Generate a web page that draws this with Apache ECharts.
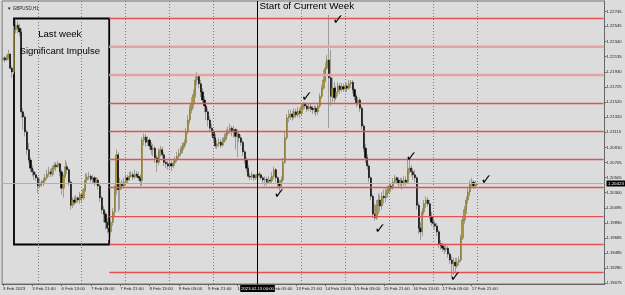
<!DOCTYPE html>
<html>
<head>
<meta charset="utf-8">
<title>GBPUSD H1</title>
<script src="https://cdn.jsdelivr.net/npm/echarts@6/dist/echarts.min.js"></script>
<style>
  html, body { margin: 0; padding: 0; background: #dcdcdc; }
  #chart { width: 625px; height: 295px; }
</style>
</head>
<body>
<div id="chart"></div>
<script>
// hourly candles, [open, close, low, high], one array per trading day
const feb03 = [
  [1.2209,1.2212,1.2206,1.2216],[1.2212,1.2209,1.2206,1.2214],[1.2209,1.2213,1.2208,1.2216],
  [1.2213,1.2217,1.2209,1.2223],[1.2217,1.2198,1.2196,1.2218],[1.2198,1.2193,1.2185,1.2201],
  [1.2193,1.2250,1.2190,1.2255],[1.2250,1.2256,1.2245,1.2263],[1.2256,1.2252,1.2245,1.2262],
  [1.2252,1.2247,1.2241,1.2258],[1.2247,1.2139,1.2131,1.2252],[1.2139,1.2132,1.2115,1.2144],
  [1.2132,1.2112,1.2106,1.2135],[1.2112,1.2088,1.2081,1.2115],[1.2088,1.2074,1.2070,1.2097],
  [1.2074,1.2063,1.2058,1.2078],[1.2063,1.2058,1.2052,1.2067],[1.2058,1.2054,1.2047,1.2062],
  [1.2054,1.2050,1.2046,1.2058]
];
const feb06 = [
  [1.2050,1.2039,1.2029,1.2052],[1.2039,1.2043,1.2036,1.2050],[1.2043,1.2042,1.2038,1.2047],
  [1.2042,1.2046,1.2039,1.2050],[1.2046,1.2050,1.2043,1.2055],[1.2050,1.2055,1.2047,1.2061],
  [1.2055,1.2058,1.2051,1.2065],[1.2058,1.2055,1.2051,1.2062],[1.2055,1.2063,1.2052,1.2067],
  [1.2063,1.2067,1.2061,1.2071],[1.2067,1.2065,1.2059,1.2071],[1.2065,1.2069,1.2063,1.2073],
  [1.2069,1.2058,1.2052,1.2070],[1.2058,1.2036,1.2027,1.2061],[1.2036,1.2052,1.2023,1.2055],
  [1.2052,1.2065,1.2050,1.2074],[1.2065,1.2061,1.2055,1.2071],[1.2061,1.2044,1.2039,1.2063],
  [1.2044,1.2013,1.2007,1.2047],[1.2013,1.2020,1.2009,1.2024],[1.2020,1.2017,1.2013,1.2025],
  [1.2017,1.2023,1.2015,1.2027],[1.2023,1.2020,1.2016,1.2025],[1.2020,1.2027,1.2015,1.2031]
];
const feb07 = [
  [1.2027,1.2023,1.2016,1.2029],[1.2023,1.2034,1.2020,1.2036],[1.2034,1.2047,1.2031,1.2056],
  [1.2047,1.2051,1.2043,1.2056],[1.2051,1.2052,1.2047,1.2058],[1.2052,1.2048,1.2044,1.2055],
  [1.2048,1.2050,1.2043,1.2054],[1.2050,1.2044,1.2039,1.2052],[1.2044,1.2047,1.2040,1.2051],
  [1.2047,1.2039,1.2034,1.2050],[1.2039,1.2023,1.2017,1.2042],[1.2023,1.2007,1.2001,1.2025],
  [1.2007,1.2001,1.1990,1.2012],[1.2001,1.1990,1.1980,1.2004],[1.1990,1.1982,1.1975,1.1996],
  [1.1982,1.1977,1.1966,1.1986],[1.1977,1.1990,1.1971,1.1996],[1.1990,1.2004,1.1985,1.2009],
  [1.2004,1.2034,1.1998,1.2040],[1.2034,1.2081,1.2027,1.2088],[1.2081,1.2034,1.2004,1.2085],
  [1.2034,1.2043,1.2007,1.2050],[1.2043,1.2039,1.2034,1.2047],[1.2039,1.2044,1.2036,1.2050]
];
const feb08 = [
  [1.2044,1.2050,1.2039,1.2055],[1.2050,1.2047,1.2043,1.2054],[1.2047,1.2052,1.2046,1.2058],
  [1.2052,1.2054,1.2050,1.2059],[1.2054,1.2051,1.2047,1.2058],[1.2051,1.2055,1.2048,1.2061],
  [1.2055,1.2052,1.2050,1.2059],[1.2052,1.2050,1.2046,1.2058],[1.2050,1.2046,1.2039,1.2054],
  [1.2046,1.2101,1.2039,1.2105],[1.2101,1.2105,1.2094,1.2110],[1.2105,1.2098,1.2092,1.2109],
  [1.2098,1.2101,1.2093,1.2106],[1.2101,1.2093,1.2088,1.2104],[1.2093,1.2088,1.2081,1.2098],
  [1.2088,1.2090,1.2079,1.2096],[1.2090,1.2077,1.2070,1.2093],[1.2077,1.2071,1.2058,1.2081],
  [1.2071,1.2085,1.2067,1.2090],[1.2085,1.2088,1.2079,1.2093],[1.2088,1.2081,1.2077,1.2092],
  [1.2081,1.2071,1.2066,1.2085],[1.2071,1.2069,1.2063,1.2075],[1.2069,1.2066,1.2061,1.2073]
];
const feb09 = [
  [1.2066,1.2069,1.2062,1.2074],[1.2069,1.2066,1.2059,1.2073],[1.2066,1.2070,1.2063,1.2075],
  [1.2070,1.2074,1.2066,1.2079],[1.2074,1.2079,1.2071,1.2085],[1.2079,1.2083,1.2075,1.2089],
  [1.2083,1.2088,1.2079,1.2092],[1.2088,1.2093,1.2083,1.2098],[1.2093,1.2097,1.2090,1.2102],
  [1.2097,1.2112,1.2093,1.2117],[1.2112,1.2128,1.2109,1.2135],[1.2128,1.2142,1.2123,1.2148],
  [1.2142,1.2150,1.2137,1.2159],[1.2150,1.2162,1.2144,1.2169],[1.2162,1.2182,1.2158,1.2189],
  [1.2182,1.2187,1.2175,1.2193],[1.2187,1.2177,1.2171,1.2190],[1.2177,1.2166,1.2159,1.2182],
  [1.2166,1.2155,1.2150,1.2171],[1.2155,1.2147,1.2139,1.2160],[1.2147,1.2139,1.2128,1.2150],
  [1.2139,1.2128,1.2119,1.2144],[1.2128,1.2117,1.2112,1.2133],[1.2117,1.2112,1.2106,1.2123]
];
const feb10 = [
  [1.2112,1.2104,1.2098,1.2116],[1.2104,1.2093,1.2090,1.2109],[1.2093,1.2096,1.2089,1.2101],
  [1.2096,1.2098,1.2092,1.2104],[1.2098,1.2094,1.2090,1.2102],[1.2094,1.2100,1.2092,1.2105],
  [1.2100,1.2104,1.2097,1.2110],[1.2104,1.2110,1.2101,1.2116],[1.2110,1.2113,1.2106,1.2119],
  [1.2113,1.2117,1.2109,1.2123],[1.2117,1.2112,1.2106,1.2120],[1.2112,1.2115,1.2104,1.2120],
  [1.2115,1.2106,1.2088,1.2117],[1.2106,1.2109,1.2078,1.2115],[1.2109,1.2104,1.2098,1.2113],
  [1.2104,1.2098,1.2093,1.2108],[1.2098,1.2085,1.2079,1.2101],[1.2085,1.2074,1.2069,1.2088],
  [1.2074,1.2063,1.2058,1.2078],[1.2063,1.2052,1.2050,1.2067],[1.2052,1.2051,1.2047,1.2056],
  [1.2051,1.2054,1.2048,1.2058],[1.2054,1.2050,1.2046,1.2055],[1.2050,1.2052,1.2047,1.2055]
];
const feb13 = [
  [1.2052,1.2055,1.2050,1.2059],[1.2055,1.2054,1.2050,1.2058],[1.2054,1.2050,1.2047,1.2056],
  [1.2050,1.2047,1.2042,1.2052],[1.2047,1.2048,1.2039,1.2052],[1.2048,1.2044,1.2040,1.2051],
  [1.2044,1.2047,1.2042,1.2052],[1.2047,1.2046,1.2042,1.2051],[1.2046,1.2052,1.2043,1.2058],
  [1.2052,1.2061,1.2048,1.2065],[1.2061,1.2050,1.2044,1.2063],[1.2050,1.2042,1.2036,1.2052],
  [1.2042,1.2039,1.2032,1.2047],[1.2039,1.2047,1.2035,1.2052],[1.2047,1.2071,1.2044,1.2077],
  [1.2071,1.2104,1.2069,1.2112],[1.2104,1.2131,1.2101,1.2136],[1.2131,1.2133,1.2125,1.2142],
  [1.2133,1.2136,1.2128,1.2142],[1.2136,1.2132,1.2127,1.2140],[1.2132,1.2139,1.2129,1.2144],
  [1.2139,1.2135,1.2131,1.2143],[1.2135,1.2140,1.2132,1.2146],[1.2140,1.2137,1.2131,1.2144]
];
const feb14 = [
  [1.2137,1.2146,1.2135,1.2150],[1.2146,1.2150,1.2142,1.2152],[1.2150,1.2147,1.2143,1.2152],
  [1.2147,1.2143,1.2139,1.2150],[1.2143,1.2146,1.2140,1.2150],[1.2146,1.2144,1.2139,1.2150],
  [1.2144,1.2142,1.2136,1.2147],[1.2142,1.2144,1.2137,1.2148],[1.2144,1.2139,1.2133,1.2147],
  [1.2139,1.2147,1.2135,1.2150],[1.2147,1.2160,1.2144,1.2164],[1.2160,1.2171,1.2156,1.2175],
  [1.2171,1.2182,1.2169,1.2196],[1.2182,1.2198,1.2179,1.2206],[1.2198,1.2209,1.2196,1.2216],
  [1.2209,1.2185,1.2117,1.2270],[1.2185,1.2160,1.2147,1.2223],[1.2160,1.2171,1.2152,1.2185],
  [1.2171,1.2158,1.2152,1.2179],[1.2158,1.2166,1.2155,1.2174],[1.2166,1.2174,1.2160,1.2179],
  [1.2174,1.2169,1.2163,1.2178],[1.2169,1.2173,1.2166,1.2178],[1.2173,1.2170,1.2166,1.2177]
];
const feb15 = [
  [1.2170,1.2174,1.2167,1.2178],[1.2174,1.2171,1.2166,1.2178],[1.2171,1.2177,1.2169,1.2182],
  [1.2177,1.2179,1.2171,1.2182],[1.2179,1.2169,1.2164,1.2182],[1.2169,1.2160,1.2155,1.2171],
  [1.2160,1.2151,1.2146,1.2163],[1.2151,1.2155,1.2147,1.2159],[1.2155,1.2144,1.2139,1.2158],
  [1.2144,1.2120,1.2115,1.2147],[1.2120,1.2090,1.2085,1.2123],[1.2090,1.2077,1.2070,1.2096],
  [1.2077,1.2066,1.2061,1.2082],[1.2066,1.2050,1.2044,1.2069],[1.2050,1.2025,1.2020,1.2052],
  [1.2025,1.2001,1.1996,1.2028],[1.2001,1.1996,1.1992,1.2015],[1.1996,1.2013,1.1993,1.2020],
  [1.2013,1.2020,1.2001,1.2029],[1.2020,1.2012,1.2004,1.2027],[1.2012,1.2025,1.2007,1.2031],
  [1.2025,1.2023,1.2015,1.2034],[1.2023,1.2029,1.2017,1.2036],[1.2029,1.2034,1.2023,1.2039]
];
const feb16 = [
  [1.2034,1.2039,1.2029,1.2043],[1.2039,1.2036,1.2031,1.2043],[1.2036,1.2044,1.2034,1.2050],
  [1.2044,1.2050,1.2042,1.2054],[1.2050,1.2047,1.2042,1.2052],[1.2047,1.2042,1.2036,1.2051],
  [1.2042,1.2046,1.2039,1.2050],[1.2046,1.2042,1.2034,1.2050],[1.2042,1.2047,1.2039,1.2052],
  [1.2047,1.2044,1.2039,1.2052],[1.2044,1.2061,1.2042,1.2077],[1.2061,1.2063,1.2055,1.2074],
  [1.2063,1.2058,1.2052,1.2067],[1.2058,1.2054,1.2047,1.2063],[1.2054,1.2050,1.2044,1.2061],
  [1.2050,1.2013,1.2007,1.2052],[1.2013,1.1982,1.1974,1.2017],[1.1982,1.1977,1.1966,1.1990],
  [1.1977,1.2004,1.1971,1.2009],[1.2004,1.2015,1.2000,1.2020],[1.2015,1.2020,1.2009,1.2025],
  [1.2020,1.2015,1.2011,1.2024],[1.2015,1.1998,1.1993,1.2020],[1.1998,1.1990,1.1985,1.2004]
];
const feb17 = [
  [1.1990,1.1988,1.1982,1.1996],[1.1988,1.1985,1.1980,1.1992],[1.1985,1.1977,1.1971,1.1989],
  [1.1977,1.1961,1.1955,1.1980],[1.1961,1.1958,1.1953,1.1966],[1.1958,1.1955,1.1950,1.1962],
  [1.1955,1.1953,1.1947,1.1959],[1.1953,1.1955,1.1950,1.1961],[1.1955,1.1947,1.1942,1.1958],
  [1.1947,1.1939,1.1934,1.1950],[1.1939,1.1934,1.1916,1.1944],[1.1934,1.1936,1.1919,1.1942],
  [1.1936,1.1931,1.1923,1.1942],[1.1931,1.1936,1.1928,1.1942],[1.1936,1.1939,1.1931,1.1944],
  [1.1939,1.1969,1.1936,1.1973],[1.1969,1.1993,1.1966,1.1998],[1.1993,1.2007,1.1988,1.2012],
  [1.2007,1.2020,1.2001,1.2025],[1.2020,1.2031,1.2015,1.2036],[1.2031,1.2042,1.2025,1.2047],
  [1.2042,1.2044,1.2036,1.2050],[1.2044,1.2039,1.2035,1.2047],[1.2039,1.20423,1.2036,1.2046]
];

// time axis: trading days shown, the first one starts at 05:00, rest is empty chart shift
const dayNames = ['3 Feb', '6 Feb', '7 Feb', '8 Feb', '9 Feb', '10 Feb', '13 Feb', '14 Feb',
  '15 Feb', '16 Feb', '17 Feb', '20 Feb', '21 Feb', '22 Feb'];
const firstHour = 5;
const slotCount = 329;
const firstLabel = '3 Feb 2023';

// price scale
const yMin = 1.19066, yMax = 1.22887;
const yTicks = [1.19075, 1.19280, 1.19485, 1.19685, 1.19890, 1.20095, 1.20300, 1.20505, 1.20705,
  1.20910, 1.21115, 1.21320, 1.21520, 1.21725, 1.21930, 1.22135, 1.22340, 1.22545, 1.22745];

// drawn objects
const redLevels = [1.22651, 1.21503, 1.21125, 1.20747, 1.20369, 1.19977, 1.19599, 1.19221];
const softLevels = [1.2227, 1.21888];
const levelFrom = 58;
const boxFrom = 6, boxTo = 58, boxTop = 1.22651, boxBottom = 1.19599;
const boxNotes = [['Last week', 31, 1.2244], ['Significant Impulse', 31, 1.2221]];
const weekStart = 139;
const weekStartLabel = '2023.02.13 00:00';
const weekNote = ['Start of Current Week', 139, 1.2281];
const checks = [[183, 1.2262], [166, 1.2158], [151, 1.2027], [206, 1.1980], [223, 1.2077],
  [264, 1.2046], [247, 1.1915]];

const candles = [].concat(feb03, feb06, feb07, feb08, feb09, feb10, feb13, feb14, feb15, feb16, feb17);
const bodies = candles.map(([o, c]) => [o, c, Math.min(o, c), Math.max(o, c)]);
const lastClose = candles[candles.length - 1][1];
const lastSlot = slotCount - 1;

const categories = [];
dayNames.forEach((d, i) => {
  for (let h = i === 0 ? firstHour : 0; h < 24; h++) {
    if (categories.length < slotCount) categories.push(d + ' ' + String(h).padStart(2, '0') + ':00');
  }
});

// dotted day separators, only as far as the data goes
const dayLines = [];
categories.forEach((c, i) => {
  if (c.endsWith(' 00:00') && i !== weekStart && i <= candles.length) dayLines.push({ xAxis: i });
});

const showLabel = i => i % 16 === 0 && i < candles.length;
const tiny = { fontFamily: 'Liberation Sans', color: '#222' };

// horizontal levels drawn as two-point line series from the box edge to the right side
const levelSeries = (v, color, width) => ({
  type: 'line',
  data: [[levelFrom, v], [lastSlot, v]],
  symbol: 'none',
  silent: true,
  z: 3,
  lineStyle: { color: color, width: width }
});

const chart = echarts.init(document.getElementById('chart'));
chart.setOption({
  backgroundColor: '#dcdcdc',
  animation: false,
  title: {
    text: '\u25BC GBPUSD,H1', left: 2, top: 1,
    textStyle: { ...tiny, fontSize: 4.5, fontWeight: 'normal' }
  },
  grid: {
    left: 0, right: 20.5, top: 1, bottom: 11,
    show: true, borderColor: '#777', borderWidth: 1
  },
  xAxis: {
    type: 'category',
    data: categories,
    boundaryGap: true,
    axisLine: { lineStyle: { color: '#666' } },
    axisTick: { show: true, length: 2, alignWithLabel: true, interval: showLabel, lineStyle: { color: '#666' } },
    axisLabel: {
      ...tiny, fontSize: 4.4, margin: 3, align: 'left',
      interval: showLabel,
      formatter: (v, i) => (i === 0 ? firstLabel : v)
    },
    splitLine: { show: false }
  },
  yAxis: {
    type: 'value',
    position: 'right',
    min: yMin, max: yMax,
    splitLine: { show: false },
    axisLine: { show: true, lineStyle: { color: '#666' } },
    axisTick: { show: true, length: 2, customValues: yTicks, lineStyle: { color: '#666' } },
    axisLabel: { ...tiny, fontSize: 4.2, margin: 2, customValues: yTicks, formatter: v => v.toFixed(5) }
  },
  series: [
    {
      name: 'wicks',
      type: 'candlestick',
      data: candles,
      barWidth: 1,
      silent: true,
      itemStyle: { color: '#9c9c9c', color0: '#9c9c9c', borderColor: '#9c9c9c', borderColor0: '#9c9c9c', borderWidth: 1 },
      markLine: {
        silent: true,
        symbol: ['none', 'none'],
        label: { show: false },
        lineStyle: { color: '#7a7a7a', type: [1, 2], width: 1 },
        data: dayLines
      }
    },
    {
      name: 'GBPUSD',
      type: 'candlestick',
      data: bodies,
      barWidth: 1.7,
      silent: true,
      itemStyle: { color: '#a99632', color0: '#000', borderColor: '#7d6e1c', borderColor0: '#000', borderWidth: 0.5 },
      markArea: {
        silent: true,
        itemStyle: { color: 'rgba(0,0,0,0)', borderColor: '#000', borderWidth: 1.8 },
        data: [[{ coord: [boxFrom, boxTop] }, { coord: [boxTo, boxBottom] }]]
      },
      markLine: {
        silent: true,
        precision: 6,
        symbol: ['none', 'none'],
        label: { show: false },
        data: [
          {
            yAxis: lastClose,
            lineStyle: { color: '#9fb2be', width: 1, type: 'solid' },
            label: {
              show: true, position: 'end', distance: 2, formatter: lastClose.toFixed(5),
              fontFamily: 'Liberation Sans', fontSize: 4.4, color: '#fff', backgroundColor: '#000', padding: [1, 1.5]
            }
          },
          {
            xAxis: weekStart,
            lineStyle: { color: '#000', width: 1, type: 'solid' },
            label: {
              show: true, position: 'start', distance: 1, formatter: weekStartLabel,
              fontFamily: 'Liberation Sans', fontSize: 4.2, color: '#fff', backgroundColor: '#000', padding: [1.5, 1]
            }
          }
        ]
      },
      markPoint: {
        silent: true,
        symbol: 'circle',
        symbolSize: 0,
        data: [
          ...boxNotes.map(([t, x, y]) => ({
            coord: [x, y],
            label: { show: true, position: 'inside', formatter: t, fontFamily: 'Liberation Sans', fontSize: 9.6, color: '#000' }
          })),
          {
            coord: [weekNote[1], weekNote[2]],
            label: { show: true, position: 'right', distance: 2, formatter: weekNote[0], fontFamily: 'Liberation Sans', fontSize: 9.8, color: '#000' }
          },
          ...checks.map(([x, y]) => ({
            coord: [x, y],
            label: { show: true, position: 'inside', formatter: '\u2713', fontFamily: 'DejaVu Sans', fontSize: 14, fontWeight: 'bold', color: '#000' }
          }))
        ]
      }
    },
    ...softLevels.map(v => levelSeries(v, '#e4a2a2', 2.5)),
    ...redLevels.map(v => levelSeries(v, '#e35252', 1.3))
  ]
});
</script>
</body>
</html>
